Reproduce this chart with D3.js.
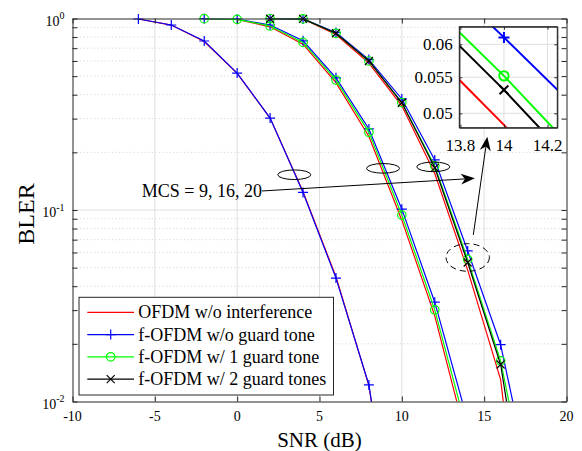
<!DOCTYPE html>
<html><head><meta charset="utf-8">
<script src="https://cdn.jsdelivr.net/npm/d3@7"></script>
<style>
body{margin:0;background:#fff}
svg{display:block}
text{font-family:"Liberation Serif","Times New Roman",serif;fill:#000}
</style>
</head><body>
<svg id="chart" width="582" height="451"></svg>
<script>
// ---------------- data ----------------
const snrMcs9  = [-6, -4, -2, 0, 2, 4, 6, 8, 10];
const snrMcs16 = [-2, 0, 2, 4, 6, 8, 10, 12, 14];
const snrMcs20 = [2, 4, 6, 8, 10, 12, 14, 16, 18];

const ofdmMcs9    = [0.994, 0.924, 0.758, 0.517, 0.302, 0.1245, 0.0448, 0.0121, 0.0009];
const noGuardMcs9 = [0.994, 0.925, 0.763, 0.519, 0.302, 0.1235, 0.0441, 0.0122, 0.00096];

const ofdmMcs16    = [0.998, 0.99, 0.905, 0.735, 0.462, 0.242, 0.0885, 0.028, 0.006];
const noGuardMcs16 = [0.998, 0.992, 0.925, 0.765, 0.49, 0.265, 0.101, 0.033, 0.0079];
const guard1Mcs16  = [0.998, 0.99, 0.914, 0.75, 0.477, 0.2545, 0.0941, 0.0301, 0.0068];

const ofdmMcs20    = [0.997, 0.994, 0.825, 0.585, 0.35, 0.155, 0.0485, 0.013, 0.0005];
const noGuardMcs20 = [0.997, 0.995, 0.845, 0.61, 0.38, 0.1825, 0.0611, 0.0198, 0.0031];
const guard1Mcs20  = [0.997, 0.995, 0.837, 0.6, 0.364, 0.17, 0.0552, 0.0163, 0.0023];
const guard2Mcs20  = [0.997, 0.995, 0.837, 0.6, 0.363, 0.166, 0.0532, 0.0156, 0.0013];

const legendLabels = ["OFDM w/o interference", "f-OFDM w/o guard tone",
                      "f-OFDM w/ 1 guard tone", "f-OFDM w/ 2 guard tones"];
const xTicks = [-10, -5, 0, 5, 10, 15, 20];
const yMajorTicks = [0.01, 0.1, 1];
const yTickExponents = ["-2", "-1", "0"];
const insetXTicks = [13.8, 14, 14.2];
const insetYTicks = [0.05, 0.055, 0.06];
const annotationText = "MCS = 9, 16, 20";

// ---------------- build series ----------------
const seriesStyle = [
  {color: "#ff0000", marker: "none"},
  {color: "#0000ff", marker: "plus"},
  {color: "#00ff00", marker: "circle"},
  {color: "#000000", marker: "cross"}
];
const zip = (xs, ys) => xs.map((x, i) => [x, ys[i]]);
// drawing order: red, blue, green, black
const curves = [
  {s: 0, pts: zip(snrMcs9, ofdmMcs9)},
  {s: 0, pts: zip(snrMcs16, ofdmMcs16)},
  {s: 0, pts: zip(snrMcs20, ofdmMcs20)},
  {s: 1, pts: zip(snrMcs9, noGuardMcs9)},
  {s: 1, pts: zip(snrMcs16, noGuardMcs16)},
  {s: 1, pts: zip(snrMcs20, noGuardMcs20)},
  {s: 2, pts: zip(snrMcs16, guard1Mcs16)},
  {s: 2, pts: zip(snrMcs20, guard1Mcs20)},
  {s: 3, pts: zip(snrMcs20, guard2Mcs20)}
];

const svg = d3.select("#chart");
const axisColor = "#262626";
const L = 72.5, R = 566.5, T = 18.5, B = 401.5;
const x = d3.scaleLinear().domain([-10, 20]).range([L, R]);
const y = d3.scaleLog().domain([0.01, 1]).range([B, T]);

const defs = svg.append("defs");
defs.append("clipPath").attr("id", "clipMain").append("rect")
  .attr("x", L).attr("y", T).attr("width", R - L).attr("height", B - T);

svg.append("rect").attr("x", L).attr("y", T).attr("width", R - L).attr("height", B - T).attr("fill", "#fff");

// grid
const minorY = [];
[0.01, 0.1].forEach(d => { for (let k = 2; k <= 9; k++) minorY.push(+(d * k).toPrecision(3)); });
const grid = svg.append("g");
grid.selectAll(".gy").data(minorY).join("line")
  .attr("x1", L).attr("x2", R).attr("y1", d => y(d)).attr("y2", d => y(d))
  .attr("stroke", "#c4c4c4").attr("stroke-width", 0.8).attr("stroke-dasharray", "1,2.6");
grid.selectAll(".gx").data(xTicks.slice(1, -1)).join("line")
  .attr("x1", d => x(d)).attr("x2", d => x(d)).attr("y1", T).attr("y2", B)
  .attr("stroke", "#dfdfdf").attr("stroke-width", 1);
grid.selectAll(".gY").data(yMajorTicks.slice(1, -1)).join("line")
  .attr("x1", L).attr("x2", R).attr("y1", d => y(d)).attr("y2", d => y(d))
  .attr("stroke", "#dfdfdf").attr("stroke-width", 1);

// marker drawing helper
function drawMarker(g, type, cx, cy, sz, color, sw) {
  if (type === "plus") {
    g.append("path").attr("d", `M${cx - sz},${cy}H${cx + sz}M${cx},${cy - sz}V${cy + sz}`)
      .attr("stroke", color).attr("stroke-width", sw).attr("fill", "none");
  } else if (type === "circle") {
    g.append("circle").attr("cx", cx).attr("cy", cy).attr("r", sz * 0.85)
      .attr("stroke", color).attr("stroke-width", sw).attr("fill", "none");
  } else if (type === "cross") {
    const s = sz * 0.8;
    g.append("path").attr("d", `M${cx - s},${cy - s}L${cx + s},${cy + s}M${cx - s},${cy + s}L${cx + s},${cy - s}`)
      .attr("stroke", color).attr("stroke-width", sw).attr("fill", "none");
  }
}

// curves
const plot = svg.append("g");
const lineGen = d3.line().x(d => x(d[0])).y(d => y(Math.max(d[1], 1e-6)));
curves.forEach(c => {
  const st = seriesStyle[c.s];
  plot.append("path").datum(c.pts).attr("d", lineGen)
    .attr("clip-path", "url(#clipMain)")
    .attr("fill", "none").attr("stroke", st.color).attr("stroke-width", 1.2);
  c.pts.filter(p => p[1] >= 0.01 && p[1] <= 1).forEach(p =>
    drawMarker(plot, st.marker, x(p[0]), y(p[1]), 5, st.color, 1.2));
});

// axes (inward ticks, box)
const gAx = svg.append("g").attr("class", "axes");
function styleAxis(g) {
  g.selectAll("path.domain").attr("stroke", axisColor).attr("stroke-width", 1);
  g.selectAll(".tick line").attr("stroke", axisColor).attr("stroke-width", 1);
  g.selectAll(".tick text").remove();
}
gAx.append("g").attr("transform", `translate(0,${B})`)
  .call(d3.axisBottom(x).tickValues(xTicks).tickSizeInner(-5).tickSizeOuter(0)).call(styleAxis);
gAx.append("g").attr("transform", `translate(0,${T})`)
  .call(d3.axisTop(x).tickValues(xTicks).tickSizeInner(-5).tickSizeOuter(0)).call(styleAxis);
gAx.append("g").attr("transform", `translate(${L},0)`)
  .call(d3.axisLeft(y).tickValues(yMajorTicks.concat(minorY)).tickSizeInner(-5).tickSizeOuter(0)).call(styleAxis);
gAx.append("g").attr("transform", `translate(${R},0)`)
  .call(d3.axisRight(y).tickValues(yMajorTicks.concat(minorY)).tickSizeInner(-5).tickSizeOuter(0)).call(styleAxis);

// tick labels
svg.append("g").selectAll("text").data(xTicks).join("text")
  .attr("x", d => x(d)).attr("y", B + 19.5).attr("text-anchor", "middle")
  .attr("font-size", 14).text(d => d < 0 ? "-" + Math.abs(d) : d);
const yl = svg.append("g").selectAll("text").data(yMajorTicks).join("text")
  .attr("x", L - 8).attr("y", d => y(d) + 7.3).attr("text-anchor", "end").attr("font-size", 14);
yl.append("tspan").text("10");
yl.append("tspan").attr("dy", -6.5).attr("font-size", 10).text((d, i) => yTickExponents[i]);

// axis labels
svg.append("text").attr("x", (L + R) / 2).attr("y", 446.5).attr("text-anchor", "middle")
  .attr("font-size", 21).text("SNR (dB)");
svg.append("text").attr("transform", `translate(34,214) rotate(-90)`)
  .attr("text-anchor", "middle").attr("font-size", 24).text("BLER");

// annotations (data coordinates)
const ellipseCenters = [[3.47, 0.1528], [8.86, 0.165], [11.91, 0.168]];
const dashedEllipse = [14.0, 0.0565];
const arrowMcs = [[1.51, 0.1257], [14.44, 0.1464]];
const arrowZoom = [[14.34, 0.0741], [15.19, 0.2415]];

const ann = svg.append("g");
ellipseCenters.forEach(c => ann.append("ellipse").attr("cx", x(c[0])).attr("cy", y(c[1]))
  .attr("rx", 16.5).attr("ry", 4.8).attr("fill", "none").attr("stroke", "#000").attr("stroke-width", 1));
ann.append("ellipse").attr("cx", x(dashedEllipse[0])).attr("cy", y(dashedEllipse[1]))
  .attr("rx", 21.7).attr("ry", 13.8).attr("fill", "none").attr("stroke", "#000")
  .attr("stroke-width", 1).attr("stroke-dasharray", "6,4");

function arrow(p0, p1) {
  const x0 = x(p0[0]), y0 = y(p0[1]), x1 = x(p1[0]), y1 = y(p1[1]);
  const dx = x1 - x0, dy = y1 - y0, len = Math.hypot(dx, dy);
  const ux = dx / len, uy = dy / len, nx = -uy, ny = ux;
  const hl = 14, hw = 5.5, notch = 4;
  ann.append("line").attr("x1", x0).attr("y1", y0)
    .attr("x2", x1 - ux * (hl - notch)).attr("y2", y1 - uy * (hl - notch))
    .attr("stroke", "#000").attr("stroke-width", 1);
  const pts = [
    [x1, y1],
    [x1 - ux * hl + nx * hw, y1 - uy * hl + ny * hw],
    [x1 - ux * (hl - notch), y1 - uy * (hl - notch)],
    [x1 - ux * hl - nx * hw, y1 - uy * hl - ny * hw]
  ];
  ann.append("path").attr("d", "M" + pts.map(p => p.join(",")).join("L") + "Z").attr("fill", "#000");
}
arrow(arrowMcs[0], arrowMcs[1]);
arrow(arrowZoom[0], arrowZoom[1]);
ann.append("text").attr("x", x(arrowMcs[0][0])).attr("y", y(arrowMcs[0][1]) + 6.5)
  .attr("text-anchor", "end").attr("font-size", 18).text(annotationText);

// legend
const lg = svg.append("g");
const lgX = 79, lgY = 297.3, lgW = 254.5, lgH = 97.7;
lg.append("rect").attr("x", lgX).attr("y", lgY).attr("width", lgW).attr("height", lgH)
  .attr("fill", "#fff").attr("stroke", axisColor).attr("stroke-width", 1);
legendLabels.forEach((lab, i) => {
  const cy = 312.3 + i * 22.25;
  const st = seriesStyle[i];
  lg.append("line").attr("x1", 87.3).attr("x2", 134).attr("y1", cy).attr("y2", cy)
    .attr("stroke", st.color).attr("stroke-width", 1.2);
  drawMarker(lg, st.marker, 110.7, cy, 5, st.color, 1.2);
  lg.append("text").attr("x", 138.3).attr("y", cy + 6).attr("font-size", 18).text(lab);
});

// inset
const iL = 459.3, iR = 557.3, iT = 26.7, iB = 127.7;
const xi = d3.scaleLinear().domain([13.795, 14.245]).range([iL, iR]);
const yi = d3.scaleLog().domain([0.04814, 0.06285]).range([iB, iT]);
defs.append("clipPath").attr("id", "clipInset").append("rect")
  .attr("x", iL).attr("y", iT).attr("width", iR - iL).attr("height", iB - iT);
const ins = svg.append("g");
ins.append("rect").attr("x", iL).attr("y", iT).attr("width", iR - iL).attr("height", iB - iT).attr("fill", "#fff");
insetXTicks.forEach(t => ins.append("line").attr("x1", xi(t)).attr("x2", xi(t)).attr("y1", iT).attr("y2", iB)
  .attr("stroke", "#dfdfdf").attr("stroke-width", 1));
insetYTicks.forEach(t => ins.append("line").attr("x1", iL).attr("x2", iR).attr("y1", yi(t)).attr("y2", yi(t))
  .attr("stroke", "#dfdfdf").attr("stroke-width", 1));
const lineI = d3.line().x(d => xi(d[0])).y(d => yi(Math.max(d[1], 1e-6)));
curves.filter(c => c.pts.some(p => p[0] === 14)).forEach(c => {
  const st = seriesStyle[c.s];
  ins.append("path").datum(c.pts).attr("d", lineI).attr("clip-path", "url(#clipInset)")
    .attr("fill", "none").attr("stroke", st.color).attr("stroke-width", 2);
  c.pts.filter(p => p[0] >= 13.795 && p[0] <= 14.245 && p[1] >= 0.04814 && p[1] <= 0.06285)
    .forEach(p => drawMarker(ins, st.marker, xi(p[0]), yi(p[1]), 5.5, st.color, 2));
});
ins.append("g").attr("transform", `translate(0,${iB})`)
  .call(d3.axisBottom(xi).tickValues(insetXTicks).tickSizeInner(-3).tickSizeOuter(0)).call(styleAxis);
ins.append("g").attr("transform", `translate(0,${iT})`)
  .call(d3.axisTop(xi).tickValues(insetXTicks).tickSizeInner(-3).tickSizeOuter(0)).call(styleAxis);
ins.append("g").attr("transform", `translate(${iL},0)`)
  .call(d3.axisLeft(yi).tickValues(insetYTicks).tickSizeInner(-3).tickSizeOuter(0)).call(styleAxis);
ins.append("g").attr("transform", `translate(${iR},0)`)
  .call(d3.axisRight(yi).tickValues(insetYTicks).tickSizeInner(-3).tickSizeOuter(0)).call(styleAxis);
ins.append("rect").attr("x", iL).attr("y", iT).attr("width", iR - iL).attr("height", iB - iT)
  .attr("fill", "none").attr("stroke", axisColor).attr("stroke-width", 1);
ins.selectAll(".ixl").data(insetXTicks).join("text")
  .attr("x", d => xi(d)).attr("y", iB + 23.5).attr("text-anchor", "middle").attr("font-size", 17)
  .text(d => d);
ins.selectAll(".iyl").data(insetYTicks).join("text")
  .attr("x", iL - 6.5).attr("y", d => yi(d) + 6).attr("text-anchor", "end").attr("font-size", 17)
  .text(d => d);
</script>
</body></html>
